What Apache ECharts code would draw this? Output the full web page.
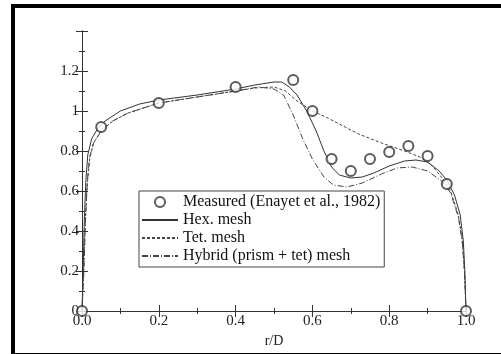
<!DOCTYPE html>
<html>
<head>
<meta charset="utf-8">
<script src="https://cdn.jsdelivr.net/npm/echarts@6/dist/echarts.min.js"></script>
<style>
  html, body { margin: 0; padding: 0; background: #fff; }
  #frame { position: absolute; left: 11px; top: 4px; width: 495px; height: 345px;
           border-left: 4px solid #000; border-top: 4px solid #000; border-bottom: 6px solid #000; }
  #chart { position: absolute; left: 0; top: 0; width: 501px; height: 354px; }
</style>
</head>
<body>
<div id="frame"></div>
<div id="chart"></div>
<script>
var xTicks = [0, 0.2, 0.4, 0.6, 0.8, 1.0];
var yTicks = [0, 0.2, 0.4, 0.6, 0.8, 1, 1.2];

var measured = [
    [0, 0], [0.05, 0.92], [0.2, 1.04], [0.4, 1.12], [0.55, 1.155], [0.6, 1.0],
    [0.65, 0.76], [0.7, 0.70], [0.75, 0.76], [0.8, 0.795], [0.85, 0.825],
    [0.9, 0.775], [0.95, 0.635], [1.0, 0]
];
var hexMesh = [
    [0, 0], [0.003, 0.2], [0.006, 0.45], [0.01, 0.65], [0.015, 0.78], [0.025, 0.86],
    [0.04, 0.91], [0.06, 0.95], [0.1, 1.0], [0.15, 1.035], [0.2, 1.055], [0.3, 1.08],
    [0.4, 1.11], [0.45, 1.13], [0.5, 1.145], [0.52, 1.145], [0.54, 1.12], [0.56, 1.08],
    [0.585, 1.0], [0.61, 0.9], [0.63, 0.8], [0.65, 0.72], [0.67, 0.68], [0.7, 0.665],
    [0.73, 0.67], [0.76, 0.69], [0.8, 0.725], [0.84, 0.75], [0.87, 0.755], [0.9, 0.745],
    [0.93, 0.7], [0.95, 0.655], [0.97, 0.58], [0.985, 0.48], [0.993, 0.35], [0.997, 0.2], [1.0, 0]
];
var tetMesh = [
    [0, 0], [0.004, 0.2], [0.008, 0.42], [0.013, 0.62], [0.02, 0.76], [0.03, 0.84],
    [0.05, 0.9], [0.08, 0.95], [0.12, 0.99], [0.2, 1.04], [0.3, 1.07], [0.4, 1.1],
    [0.45, 1.115], [0.5, 1.12], [0.53, 1.1], [0.56, 1.05], [0.6, 1.0], [0.64, 0.965],
    [0.68, 0.925], [0.72, 0.885], [0.78, 0.84], [0.84, 0.8], [0.88, 0.77], [0.91, 0.73],
    [0.94, 0.66], [0.96, 0.6], [0.98, 0.48], [0.99, 0.36], [0.996, 0.2], [1.0, 0]
];
var hybridMesh = [
    [0, 0], [0.005, 0.2], [0.009, 0.45], [0.014, 0.65], [0.02, 0.77], [0.03, 0.84],
    [0.05, 0.9], [0.08, 0.95], [0.12, 0.99], [0.2, 1.04], [0.3, 1.07], [0.4, 1.1],
    [0.46, 1.12], [0.5, 1.11], [0.525, 1.08], [0.55, 0.98], [0.575, 0.86], [0.6, 0.76],
    [0.63, 0.67], [0.655, 0.63], [0.69, 0.62], [0.73, 0.64], [0.78, 0.685], [0.82, 0.715],
    [0.86, 0.72], [0.9, 0.7], [0.94, 0.645], [0.96, 0.59], [0.98, 0.47], [0.99, 0.35],
    [0.996, 0.2], [1.0, 0]
];

var font = 'Liberation Serif';
var axisColor = '#333';

function tickAxis(extra) {
    var a = {
        type: 'value',
        axisLine: { show: true, lineStyle: { color: axisColor, width: 1 } },
        axisTick: { show: true, inside: true, length: 6, lineStyle: { color: axisColor } },
        minorTick: { show: true, splitNumber: 2, length: 3, lineStyle: { color: axisColor } },
        splitLine: { show: false },
        axisLabel: { show: false }
    };
    for (var k in extra) a[k] = extra[k];
    return a;
}

var chart = echarts.init(document.getElementById('chart'));
var option = {
    animation: false,
    backgroundColor: 'transparent',
    textStyle: { fontFamily: font },
    grid: { left: 82, right: 35, top: 31, bottom: 43 },
    xAxis: [
        tickAxis({
            min: 0, max: 1, interval: 0.2, position: 'bottom',
            name: 'r/D', nameLocation: 'middle', nameGap: 21,
            nameTextStyle: { fontFamily: font, fontSize: 14, color: '#222' },
            axisLabel: {
                show: true, fontFamily: font, fontSize: 15, color: '#222', margin: 3,
                formatter: function (v) { return v.toFixed(1); }
            }
        }),
        tickAxis({ min: 0, max: 1, interval: 0.2, position: 'top' })
    ],
    yAxis: [
        tickAxis({
            min: 0, max: 1.4, interval: 0.2, position: 'left',
            axisLabel: {
                show: true, fontFamily: font, fontSize: 15, color: '#222', margin: 3,
                formatter: function (v) {
                    var r = Math.round(v * 10) / 10;
                    if (r > 1.25) return '';
                    if (r === 0) return '0';
                    if (r === 1) return '1';
                    return r.toFixed(1);
                }
            }
        }),
        tickAxis({ min: 0, max: 1.4, interval: 0.2, position: 'right' })
    ],
    legend: {
        orient: 'vertical',
        left: 139, top: 191,
        padding: [3, 4, 3, 2],
        itemGap: 2,
        itemWidth: 36, itemHeight: 10,
        borderColor: '#444', borderWidth: 1,
        backgroundColor: '#fff',
        textStyle: { fontFamily: font, fontSize: 16, color: '#111' },
        data: [
            { name: 'Measured (Enayet et al., 1982)' },
            { name: 'Hex. mesh', itemStyle: { opacity: 0 } },
            { name: 'Tet. mesh', itemStyle: { opacity: 0 } },
            { name: 'Hybrid (prism + tet) mesh', itemStyle: { opacity: 0 } }
        ]
    },
    series: [
        {
            name: 'Measured (Enayet et al., 1982)',
            type: 'scatter',
            data: measured,
            symbol: 'emptyCircle',
            symbolSize: 10,
            itemStyle: { color: '#333', borderWidth: 1 },
            z: 5
        },
        {
            name: 'Hex. mesh',
            type: 'line',
            data: hexMesh,
            showSymbol: false,
            symbol: 'none',
            lineStyle: { color: '#333', width: 1, type: 'solid' },
            itemStyle: { color: '#333' }
        },
        {
            name: 'Tet. mesh',
            type: 'line',
            data: tetMesh,
            showSymbol: false,
            symbol: 'none',
            lineStyle: { color: '#444', width: 1, type: [3, 2] },
            itemStyle: { color: '#444' }
        },
        {
            name: 'Hybrid (prism + tet) mesh',
            type: 'line',
            data: hybridMesh,
            showSymbol: false,
            symbol: 'none',
            lineStyle: { color: '#444', width: 1, type: [6, 2, 1, 2] },
            itemStyle: { color: '#444' }
        }
    ]
};
chart.setOption(option);
</script>
</body>
</html>
